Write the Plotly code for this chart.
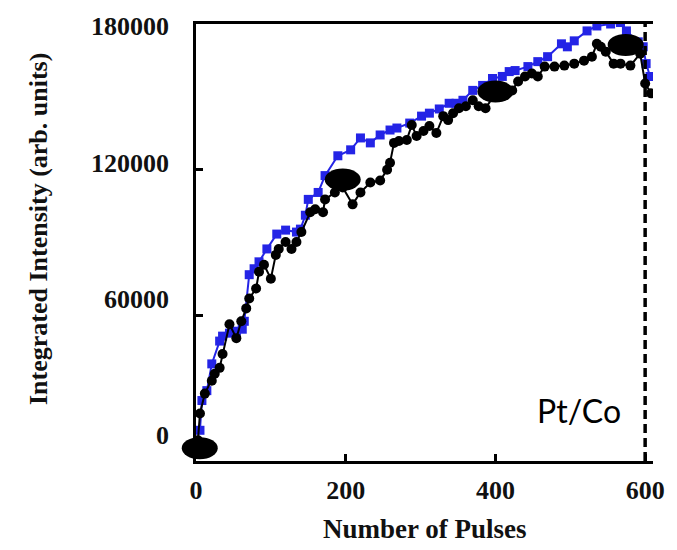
import plotly.graph_objects as go

# ---- data ----
blue_x = [5.3, 7.9, 14.5, 21.1, 31.6, 35.5, 44.7, 53.9, 61.8, 64.5, 71.1, 77.6, 84.2, 94.7,
          107.9, 119.7, 134.2, 139.5, 146.1, 150.0, 163.2, 172.4, 189.5, 206.6, 219.7, 232.9,
          246.0, 259.2, 268.4, 285.5, 301.3, 311.8, 325.0, 338.2, 347.4, 356.6, 369.7, 382.9,
          396.1, 409.2, 418.4, 426.3, 443.4, 456.6, 469.7, 488.2, 496.1, 505.3, 522.4, 535.5,
          553.9, 567.1, 575.0, 590.8, 597.4, 601.3, 606.6]
blue_y = [12650, 24900, 28980, 40000, 49390, 51430, 52650, 53470, 54290, 57550, 76740, 79190,
          82040, 87350, 93470, 95100, 94290, 95510, 101230, 107760, 110610, 117550, 125720,
          128170, 133070, 131030, 134290, 136330, 137150, 139190, 142050, 143270, 145000,
          147350, 147350, 148580, 152660, 154700, 157560, 158400, 160400, 160820, 162460,
          164500, 166540, 171840, 170600, 173060, 177150, 179190, 180000, 180600, 177150,
          172660, 170620, 163680, 158380]

black_x = [2.6, 5.3, 11.8, 21.1, 25.0, 31.6, 35.5, 44.7, 53.9, 60.5, 67.1, 71.1, 80.3, 84.2,
           90.8, 100.0, 106.6, 110.5, 119.7, 127.6, 134.2, 140.8, 152.6, 159.2, 169.7, 172.4,
           185.5, 196.0, 209.2, 219.7, 232.9, 246.0, 255.3, 259.2, 264.5, 271.1, 281.6, 288.2,
           294.7, 303.9, 311.8, 321.1, 330.3, 336.8, 343.4, 351.3, 360.5, 369.7, 377.6, 386.8,
           400.0, 413.2, 422.4, 430.3, 439.5, 448.7, 456.6, 465.8, 478.9, 492.1, 505.3, 518.4,
           528.9, 535.5, 540.8, 547.4, 557.9, 567.1, 580.3, 593.4, 600.0, 607.9]
black_y = [8570, 19590, 27760, 33060, 35920, 38370, 44080, 56330, 50610, 57550, 62860, 66940,
           71020, 77960, 80820, 75100, 84900, 87350, 90200, 87350, 90200, 94290, 102450,
           103670, 102450, 107760, 110610, 112650, 105710, 110610, 114690, 115510, 120000,
           122860, 131020, 131840, 132250, 138370, 133880, 135920, 137960, 135100, 142040,
           140410, 143270, 145310, 146130, 148570, 146130, 145310, 151430, 150610, 152650,
           156330, 158370, 159590, 158370, 162450, 162450, 162860, 163670, 164900, 166530,
           171840, 170610, 168570, 163670, 163670, 162860, 167760, 155510, 151430]

# large black ellipses marking selected pulses
ellipse_x = [5, 196, 400, 574]
ellipse_y = [5300, 115900, 152200, 171400]

x_ticks = [0, 200, 400, 600]
y_ticks = [0, 60000, 120000, 180000]
y_tick_text = ["0", "60000", "120000", "180000"]
boundary_pulse = 600
label_text = "Pt/Co"
label_pos = (512, 20800)

X_RANGE = [0, 610.5]
Y_RANGE = [0, 180000]
Y_LABEL_RANGE = [-11332, 180871]   # tick labels sit slightly off the tick marks

tick_font = dict(family="Liberation Serif, Times New Roman, serif", size=26,
                 color="#111111", weight="bold")
xtitle_font = dict(family="Liberation Serif, Times New Roman, serif", size=27,
                   color="#111111", weight="bold")
ytitle_font = dict(family="Liberation Serif, Times New Roman, serif", size=26,
                   color="#111111", weight="bold")

fig = go.Figure()
fig.add_trace(go.Scatter(
    x=blue_x, y=blue_y, mode="lines+markers",
    line=dict(color="#2424e6", width=2),
    marker=dict(symbol="square", size=9, color="#2424e6"),
    showlegend=False))
fig.add_trace(go.Scatter(
    x=black_x, y=black_y, mode="lines+markers",
    line=dict(color="#000000", width=2),
    marker=dict(symbol="circle", size=10, color="#000000"),
    showlegend=False))
# carrier trace for the (label-only) left axis
fig.add_trace(go.Scatter(
    x=[X_RANGE[0]] * len(y_ticks), y=y_ticks, yaxis="y2", mode="markers",
    marker=dict(opacity=0), hoverinfo="skip", showlegend=False))

span = X_RANGE[1] - X_RANGE[0]
for ex, ey in zip(ellipse_x, ellipse_y):
    fig.add_shape(type="circle", xref="paper", yref="y",
                  xsizemode="pixel", ysizemode="pixel",
                  xanchor=(ex - X_RANGE[0]) / span, yanchor=ey,
                  x0=-18, x1=18, y0=-11, y1=11,
                  fillcolor="black", line=dict(color="black", width=0))

fig.add_shape(type="line", xref="x", yref="paper",
              x0=boundary_pulse, x1=boundary_pulse, y0=0, y1=1,
              line=dict(color="black", width=3.5, dash="9px,5px"))

fig.add_annotation(x=label_pos[0], y=label_pos[1], xref="x", yref="y",
                   text=label_text, showarrow=False, xanchor="center", yanchor="middle",
                   font=dict(family="Lato, Open Sans, sans-serif", size=32, color="black"))

fig.add_annotation(x=0.5, y=-0.1546, xref="paper", yref="paper",
                   text="Number of Pulses", showarrow=False,
                   xanchor="center", yanchor="middle", font=xtitle_font)
fig.add_annotation(x=-0.3448, y=0.5317, xref="paper", yref="paper",
                   text="Integrated Intensity (arb. units)", showarrow=False, textangle=-90,
                   xanchor="center", yanchor="middle", font=ytitle_font)

fig.update_layout(
    width=677, height=550,
    margin=dict(l=196, r=17, t=20, b=89),
    paper_bgcolor="white", plot_bgcolor="white",
    xaxis=dict(range=X_RANGE, tickvals=x_ticks, ticks="inside", ticklen=7, tickwidth=3,
               tickcolor="black", showline=True, linewidth=3, linecolor="black",
               mirror=True, showgrid=False, zeroline=False, tickfont=tick_font,
               ticklabelstandoff=4),
    yaxis=dict(range=Y_RANGE, tickvals=y_ticks, ticks="inside", ticklen=7, tickwidth=3,
               tickcolor="black", showline=True, linewidth=3, linecolor="black",
               showgrid=False, zeroline=False, showticklabels=False),
    yaxis2=dict(range=Y_LABEL_RANGE, overlaying="y", side="left",
                tickvals=y_ticks, ticktext=y_tick_text, ticks="", showline=False,
                showgrid=False, zeroline=False, tickfont=tick_font, ticklabelstandoff=26),
)

fig.write_html("out.html")
